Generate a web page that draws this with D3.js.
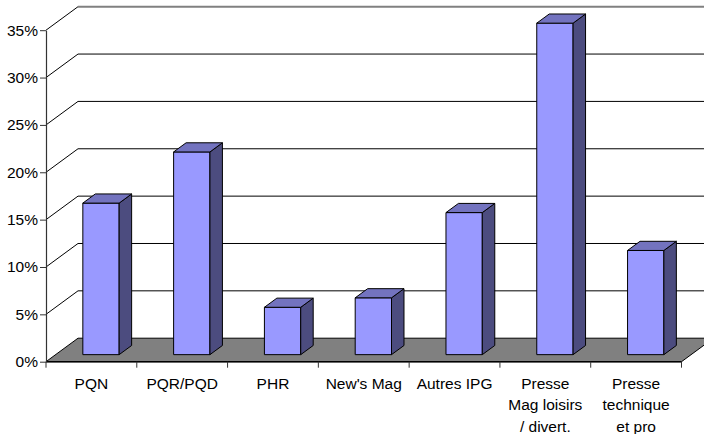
<!DOCTYPE html>
<html>
<head>
<meta charset="utf-8">
<script src="https://cdn.jsdelivr.net/npm/d3@7/dist/d3.min.js"></script>
<style>
  html, body { margin: 0; padding: 0; background: #fff; }
  svg { display: block; font-family: "Liberation Sans", Arial, sans-serif; }
</style>
</head>
<body>
<svg id="chart" width="704" height="434"></svg>
<script>
// Share of each press family (percent)
const categories = ["PQN", "PQR/PQD", "PHR", "New's Mag", "Autres IPG", "Presse\nMag loisirs\n/ divert.", "Presse\ntechnique\net pro"];
const values = [16, 21.4, 5, 6, 15, 35, 11];
const yTicks = [0, 5, 10, 15, 20, 25, 30, 35];

const svg = d3.select("#chart");

// Front plane scales
const x = d3.scaleBand().domain(categories).range([46, 681.5]).paddingInner(0).paddingOuter(0);
const y = d3.scaleLinear().domain([0, 35]).range([361.7, 30.2]);

// Oblique depth of the 3D box
const depthX = 32, depthY = -23.5;
const proj = (px, v, f) => [px + f * depthX, y(v) + f * depthY];

const wallRight = 704;
const backX = x.range()[0] + depthX;

// Gridlines: diagonal on the side wall, horizontal on the back wall
const grid = svg.append("g");
yTicks.filter(t => t > 0).forEach(t => {
  const [fx, fy] = proj(x.range()[0], t, 0);
  const [bx, by] = proj(x.range()[0], t, 1);
  grid.append("line").attr("x1", fx).attr("y1", fy).attr("x2", bx).attr("y2", by)
    .attr("stroke", "#000").attr("stroke-width", 1);
  grid.append("line").attr("x1", bx).attr("y1", by).attr("x2", wallRight).attr("y2", by)
    .attr("stroke", t === 35 ? "#808080" : "#000").attr("stroke-width", t === 35 ? 2 : 1);
});

// Floor
const [x0, x1] = x.range();
const floorPts = [proj(x0, 0, 0), proj(x1, 0, 0), proj(x1, 0, 1), proj(x0, 0, 1)];
svg.append("polygon")
  .attr("points", floorPts.map(p => p.join(",")).join(" "))
  .attr("fill", "#808080").attr("stroke", "#000").attr("stroke-width", 1);
svg.append("line")
  .attr("x1", x0).attr("y1", y(0)).attr("x2", x1).attr("y2", y(0))
  .attr("stroke", "#000").attr("stroke-width", 1.5);

// Bars
const barFrac = 0.4;
const f1 = 0.3, f2 = 0.69;
const bars = svg.append("g");
categories.forEach((c, i) => {
  const v = values[i];
  const bw = x.bandwidth() * barFrac;
  const left = x(c) + (x.bandwidth() - bw) / 2;
  const right = left + bw;
  const poly = pts => pts.map(p => p.join(",")).join(" ");
  const g = bars.append("g").attr("stroke", "#000").attr("stroke-width", 1).attr("stroke-linejoin", "round");
  // front face
  g.append("polygon").attr("fill", "#9999FF")
    .attr("points", poly([proj(left, 0, f1), proj(right, 0, f1), proj(right, v, f1), proj(left, v, f1)]));
  // side face
  g.append("polygon").attr("fill", "#4C4C7F")
    .attr("points", poly([proj(right, 0, f1), proj(right, 0, f2), proj(right, v, f2), proj(right, v, f1)]));
  // top face
  g.append("polygon").attr("fill", "#7373BF")
    .attr("points", poly([proj(left, v, f1), proj(right, v, f1), proj(right, v, f2), proj(left, v, f2)]));
});

// Value axis
const yAxis = d3.axisLeft(y).tickValues(yTicks).tickFormat(d => d + "%")
  .tickSize(6).tickSizeOuter(0).tickPadding(2);
const ya = svg.append("g").attr("transform", `translate(${x0},0)`).call(yAxis);
ya.select(".domain").attr("stroke", "#333").attr("stroke-width", 1.2);
ya.selectAll(".tick line").attr("stroke", "#333");
ya.selectAll("text").attr("fill", "#000").style("font-size", "15.5px")
  .style("font-family", "'Liberation Sans', Arial, sans-serif");

// Category axis: labels centred in each band, ticks at band edges
const xAxis = d3.axisBottom(x).tickSize(0).tickPadding(16);
const xa = svg.append("g").attr("transform", `translate(0,${y(0)})`).call(xAxis);
xa.select(".domain").remove();
xa.selectAll("text").attr("fill", "#000").style("font-size", "15.5px")
  .style("font-family", "'Liberation Sans', Arial, sans-serif")
  .each(function(d) {
    const t = d3.select(this);
    const lines = d.split("\n");
    t.text(null);
    lines.forEach((ln, k) => {
      t.append("tspan").attr("x", 0).attr("dy", k === 0 ? "0.71em" : "1.39em").text(ln);
    });
  }).attr("dy", null);

const edges = categories.map(c => x(c)).concat([x1]);
svg.append("g").selectAll("line").data(edges).join("line")
  .attr("x1", d => d).attr("x2", d => d)
  .attr("y1", y(0)).attr("y2", y(0) + 6)
  .attr("stroke", "#333").attr("stroke-width", 1);
</script>
</body>
</html>
